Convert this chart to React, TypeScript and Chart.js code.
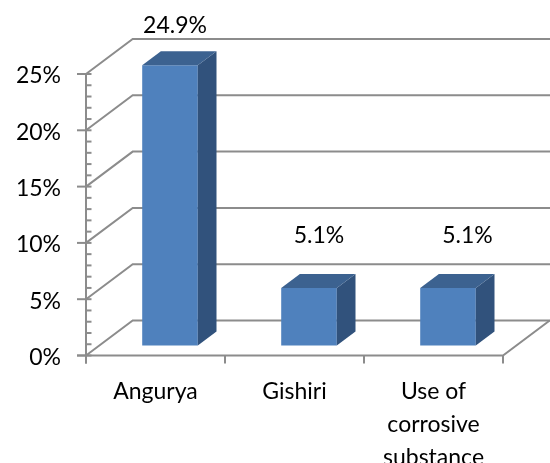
import React, { useEffect, useRef } from "react";
import { Chart, registerables } from "chart.js";

Chart.register(...registerables);

const categories: (string | string[])[] = ["Angurya", "Gishiri", ["Use of", "corrosive", "substance"]];
const values = [24.9, 5.1, 5.1];
const valueLabels = ["24.9%", "5.1%", "5.1%"];
const labelShiftX = [5, 10, 19.5];
const labelShiftY = [40, 52, 52];

const FONT = "Lato, Carlito, sans-serif";
const GREY = "#8c8c8c";
const FRONT = "#4f81bd";
const SIDE = "#31527c";
const TOP = "#3c6290";
const DEPTH_X = 46.7;
const DEPTH_Y = 35;
const GAP_X = 14.5;
const GAP_Y = 10;
const BAR_DX = 18.7;
const BAR_DY = 14;

const poly = (ctx: CanvasRenderingContext2D, pts: number[][], fill: string) => {
  ctx.beginPath();
  pts.forEach((p, i) => (i ? ctx.lineTo(p[0], p[1]) : ctx.moveTo(p[0], p[1])));
  ctx.closePath();
  ctx.fillStyle = fill;
  ctx.fill();
};

const wall3d = {
  id: "wall3d",
  beforeDatasetsDraw(chart: any) {
    const { ctx, scales } = chart;
    const y = scales.y;
    const x = scales.x;
    const left = x.getPixelForValue(-0.5);
    const right = x.getPixelForValue(2.5);
    ctx.save();
    ctx.strokeStyle = GREY;
    ctx.lineWidth = 2;
    for (let v = 0; v <= 25; v += 5) {
      const py = y.getPixelForValue(v);
      ctx.beginPath();
      ctx.moveTo(left, py);
      ctx.lineTo(left + DEPTH_X, py - DEPTH_Y);
      ctx.lineTo(550, py - DEPTH_Y);
      ctx.stroke();
    }
    // floor
    const y0 = y.getPixelForValue(0);
    ctx.beginPath();
    ctx.moveTo(left - 9, y0);
    ctx.lineTo(right, y0);
    ctx.lineTo(right + DEPTH_X, y0 - DEPTH_Y);
    ctx.stroke();
    // axis
    ctx.beginPath();
    ctx.moveTo(left, y.getPixelForValue(25));
    ctx.lineTo(left, y0 + 8);
    ctx.stroke();
    // y ticks
    for (let v = 0; v <= 25; v += 1) {
      const py = y.getPixelForValue(v);
      ctx.beginPath();
      ctx.moveTo(v % 5 === 0 ? left - 9 : left, py);
      ctx.lineTo(left + 5.5, py);
      ctx.stroke();
    }
    // x ticks
    for (let i = 0; i <= 3; i++) {
      const px = x.getPixelForValue(i - 0.5);
      ctx.beginPath();
      ctx.moveTo(px, y0);
      ctx.lineTo(px, y0 + 8);
      ctx.stroke();
    }
    ctx.restore();
  },
  beforeDatasetDraw(chart: any) {
    chart.ctx.save();
    chart.ctx.translate(GAP_X, -GAP_Y);
  },
  afterDatasetDraw(chart: any, args: any) {
    const { ctx } = chart;
    args.meta.data.forEach((bar: any) => {
      const { x, y, base, width } = bar.getProps(["x", "y", "base", "width"], true);
      const l = x - width / 2;
      const r = x + width / 2;
      poly(ctx, [[r, y], [r + BAR_DX, y - BAR_DY], [r + BAR_DX, base - BAR_DY], [r, base]], SIDE);
      poly(ctx, [[l, y], [l + BAR_DX, y - BAR_DY], [r + BAR_DX, y - BAR_DY], [r, y]], TOP);
    });
    ctx.restore();
  },
  afterDatasetsDraw(chart: any) {
    const { ctx } = chart;
    const meta = chart.getDatasetMeta(0);
    ctx.save();
    ctx.fillStyle = "#000";
    ctx.font = `23px ${FONT}`;
    ctx.textAlign = "center";
    ctx.textBaseline = "middle";
    meta.data.forEach((bar: any, i: number) => {
      ctx.fillText(
        valueLabels[i],
        bar.x + GAP_X + labelShiftX[i],
        bar.y - GAP_Y - labelShiftY[i]
      );
    });
    ctx.restore();
  },
};

export default function App() {
  const ref = useRef<HTMLCanvasElement>(null);
  useEffect(() => {
    document.body.style.margin = "0";
    const chart = new Chart(ref.current!, {
      type: "bar",
      data: {
        labels: categories as any,
        datasets: [
          {
            data: values,
            backgroundColor: FRONT,
            barPercentage: 0.4,
            categoryPercentage: 1,
            clip: false as any,
          },
        ],
      },
      plugins: [wall3d],
      options: {
        animation: false,
        responsive: false,
        layout: { padding: { left: 0, right: 47, top: 74, bottom: 0 } },
        plugins: { legend: { display: false }, tooltip: { enabled: false } },
        scales: {
          x: {
            grid: { display: false },
            border: { display: false },
            afterFit: (s: any) => {
              s.height = 107.5;
            },
            ticks: {
              maxRotation: 0,
              autoSkip: false,
              color: "#000",
              padding: 12,
              font: { family: FONT, size: 23, lineHeight: 1.43 },
            },
          },
          y: {
            min: 0,
            max: 25,
            grid: { display: false },
            border: { display: false },
            afterFit: (s: any) => {
              s.width = 86;
            },
            ticks: {
              stepSize: 1,
              autoSkip: false,
              color: "#000",
              padding: 17,
              labelOffset: 2,
              font: { family: FONT, size: 23 },
              callback: (v: any) => (Number(v) % 5 === 0 ? `${v}%` : ""),
            },
          },
        },
      } as any,
    });
    return () => chart.destroy();
  }, []);
  return <canvas ref={ref} width={550} height={463} style={{ display: "block" }} />;
}
